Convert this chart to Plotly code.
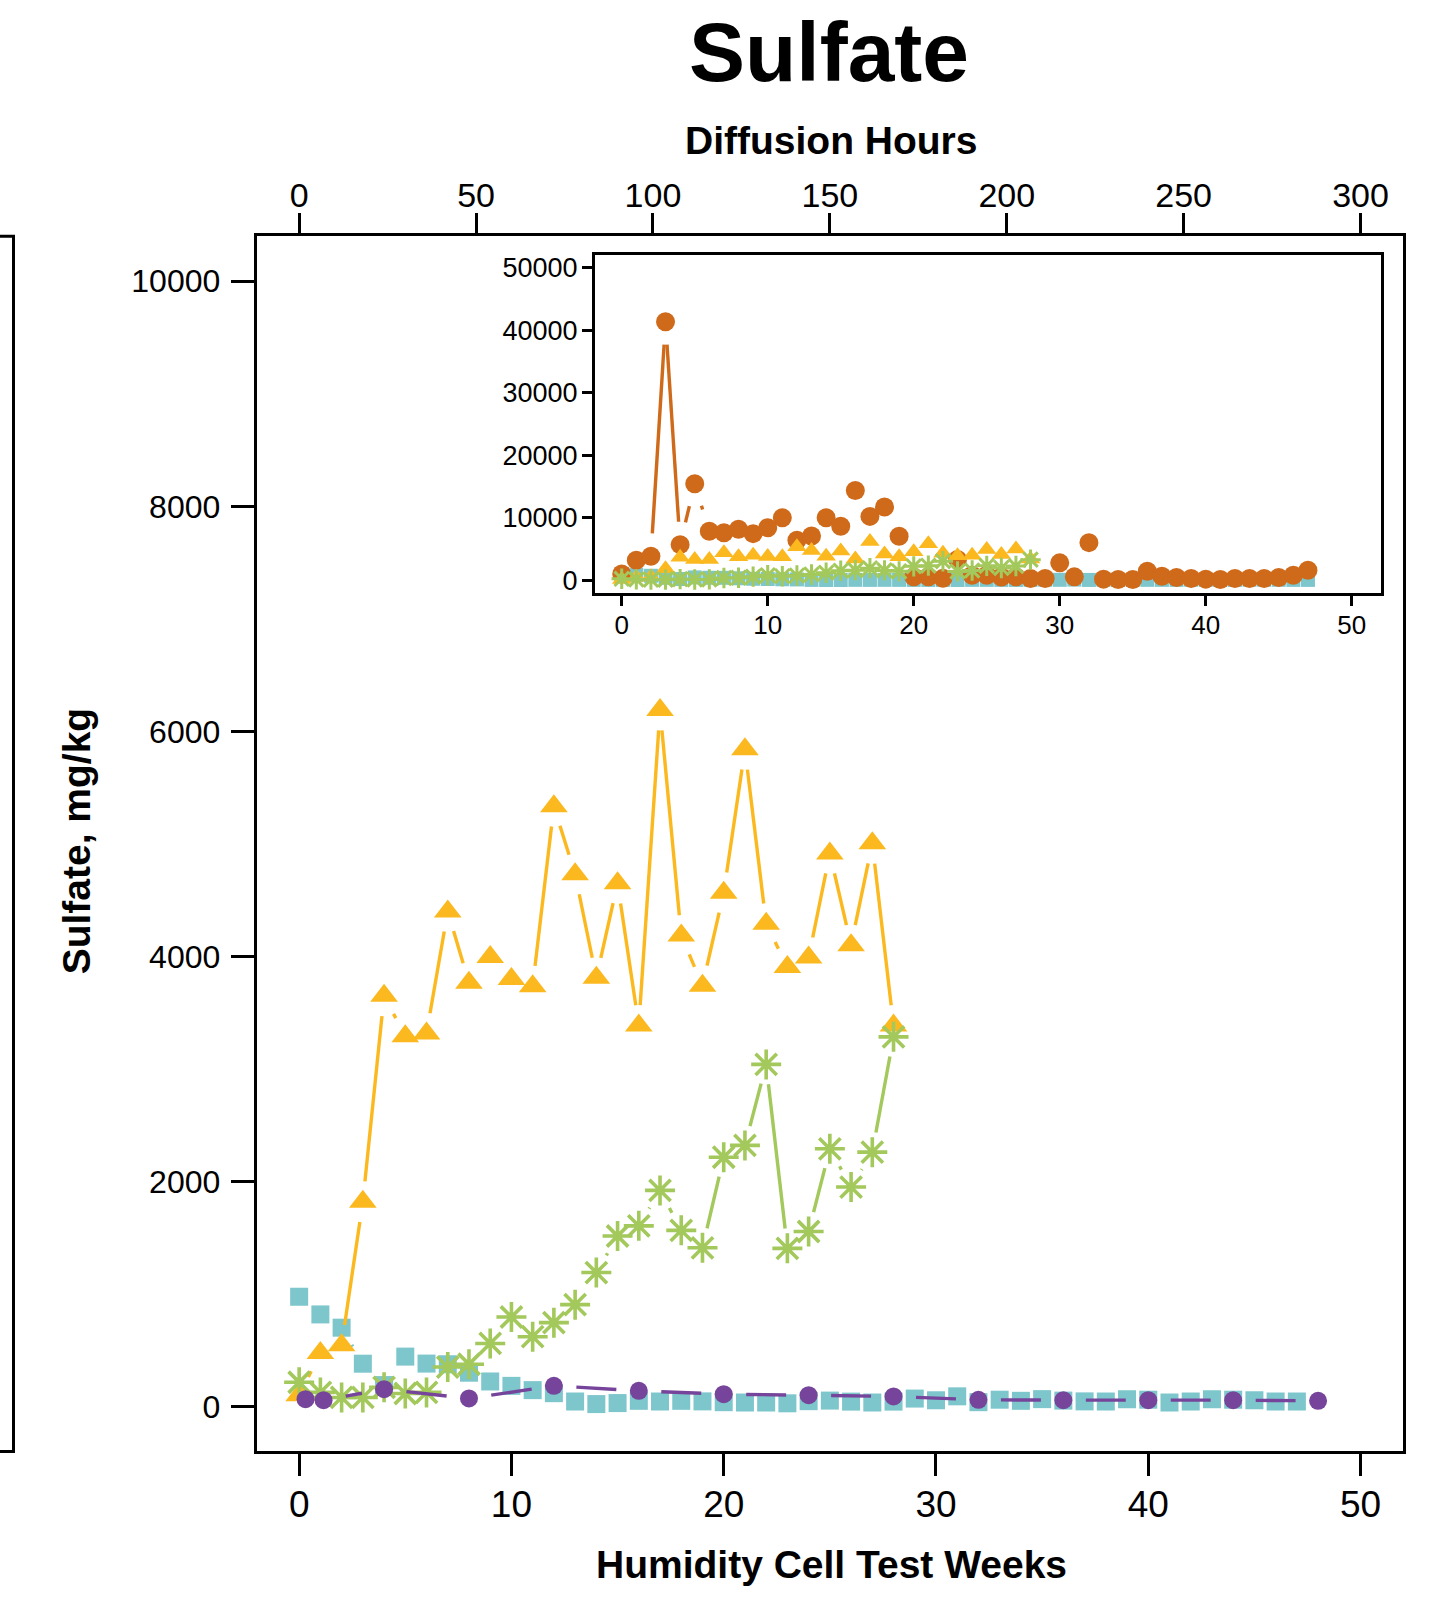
import math
import plotly.graph_objects as go

W, H = 1449, 1601
FONT = "Liberation Sans, Arial, sans-serif"

# ---------------- data ----------------
weeks_cyan = list(range(48))
cyan = [975, 818, 700, 380, 190, 443, 381, 375, 300, 222, 183, 145, 118, 44, 21, 30,
        50, 44, 50, 45, 38, 35, 35, 28, 47, 52, 43, 35, 43, 70, 55, 90, 38, 60, 50, 65,
        52, 45, 44, 64, 60, 35, 44, 64, 60, 55, 44, 44]

weeks_yellow = list(range(29))
yellow = [100, 475, 545, 1820, 3650, 3290, 3315, 4400, 3765, 3995, 3800, 3735, 5335, 4730,
          3810, 4650, 3385, 6190, 4185, 3740, 4565, 5840, 4290, 3905, 3990, 4915, 4100,
          5005, 3385]

weeks_green = list(range(29))
green = [215, 125, 80, 80, 170, 115, 125, 350, 375, 560, 795, 620, 745, 905, 1190, 1515,
         1605, 1920, 1565, 1410, 2215, 2320, 3040, 1405, 1555, 2290, 1950, 2260, 3285]

weeks_purple = [0.3, 1.15, 4, 8, 12, 16, 20, 24, 28, 32, 36, 40, 44, 48]
purple = [65, 56, 153, 71, 183, 139, 109, 100, 89, 59, 56, 56, 56, 50]

weeks_orange = list(range(48))
orange = [1000, 3190, 3830, 41380, 5690, 15430, 7820, 7600, 8140, 7450, 8400, 10000,
          6380, 7070, 10000, 8620, 14360, 10210, 11700, 7020, 530, 530, 300, 3300, 800,
          800, 500, 530, 270, 270, 2770, 530, 6010, 160, 100, 100, 1440, 640, 430, 270,
          160, 100, 270, 270, 270, 430, 800, 1600]

main_xticks = [0, 10, 20, 30, 40, 50]
main_yticks = [0, 2000, 4000, 6000, 8000, 10000]
hour_ticks = [0, 50, 100, 150, 200, 250, 300]
inset_yticks = [0, 10000, 20000, 30000, 40000, 50000]

# colours
C_CYAN = "#7CC6CC"
C_YEL = "#FBB91F"
C_GRN = "#A3C85B"
C_PUR = "#76449A"
C_ORA = "#CF6A1A"

# ---------------- geometry (pixels) ----------------
MX0, MX1, MY0, MY1 = 256.7, 1403.0, 235.0, 1454.0      # main plot box
IX0, IX1, IY0, IY1 = 595.0, 1380.5, 254.2, 592.5      # inset box
MXR, MYR = [-2, 52], [-400, 10400]
IXR, IYR = [-1.83, 51.97], [-2000, 52000]


def dom_x(a, b):
    return [a / W, b / W]


def dom_y(top, bottom):
    return [1 - bottom / H, 1 - top / H]


m_sx = (MX1 - MX0) / (MXR[1] - MXR[0])
m_sy = (MY1 - MY0) / (MYR[1] - MYR[0])
i_sx = (IX1 - IX0) / (IXR[1] - IXR[0])
i_sy = (IY1 - IY0) / (IYR[1] - IYR[0])


def gapped(xs, ys, sx, sy, gap):
    """Emulate R's type='b': segments shortened by `gap` px at each end."""
    gx, gy = [], []
    for x0, y0, x1, y1 in zip(xs[:-1], ys[:-1], xs[1:], ys[1:]):
        L = math.hypot((x1 - x0) * sx, (y1 - y0) * sy)
        if L > 2 * gap:
            f = gap / L
            gx += [x0 + (x1 - x0) * f, x1 - (x1 - x0) * f, None]
            gy += [y0 + (y1 - y0) * f, y1 - (y1 - y0) * f, None]
    return gx, gy


fig = go.Figure()


def add_series(xs, ys, color, symbol, size, gap, sx, sy, xa, ya, lw=3.4, mlw=0):
    lx, ly = gapped(xs, ys, sx, sy, gap)
    fig.add_trace(go.Scatter(x=lx, y=ly, mode="lines", xaxis=xa, yaxis=ya,
                             line=dict(color=color, width=lw), hoverinfo="skip",
                             showlegend=False, cliponaxis=False))
    fig.add_trace(go.Scatter(x=xs, y=ys, mode="markers", xaxis=xa, yaxis=ya,
                             marker=dict(color=color, symbol=symbol, size=size,
                                         line=dict(color=color, width=mlw)),
                             showlegend=False, cliponaxis=False))


# main plot
add_series(weeks_cyan, cyan, C_CYAN, "square", 18, 20, m_sx, m_sy, "x", "y")
add_series(weeks_yellow, yellow, C_YEL, "triangle-up", 24, 20.5, m_sx, m_sy, "x", "y")
add_series(weeks_green, green, C_GRN, "asterisk-open", 25, 20, m_sx, m_sy, "x", "y", mlw=3.6)
add_series(weeks_purple, purple, C_PUR, "circle", 18, 22.5, m_sx, m_sy, "x", "y")

# inset
add_series(weeks_cyan, cyan, C_CYAN, "square", 14, 14, i_sx, i_sy, "x2", "y2")
add_series(weeks_orange, orange, C_ORA, "circle", 19, 23, i_sx, i_sy, "x2", "y2")
add_series(weeks_yellow, yellow, C_YEL, "triangle-up", 17, 14, i_sx, i_sy, "x2", "y2")
add_series(weeks_green, green, C_GRN, "asterisk-open", 17, 14, i_sx, i_sy, "x2", "y2", mlw=3.0)

# invisible trace to activate the top (hours) axis
fig.add_trace(go.Scatter(x=[hour_ticks[0]], y=[0], xaxis="x3", yaxis="y", mode="markers",
                         marker=dict(opacity=0), showlegend=False, hoverinfo="skip"))

base_ax = dict(ticks="outside", tickwidth=3, tickcolor="black", tickformat="d",
               showgrid=False, zeroline=False, showline=True, linewidth=3,
               linecolor="black", mirror=True)

fig.update_layout(
    width=W, height=H, autosize=False,
    margin=dict(l=0, r=0, t=0, b=0),
    paper_bgcolor="white", plot_bgcolor="white",
    showlegend=False,
    xaxis=dict(domain=dom_x(MX0, MX1), range=MXR, tickvals=main_xticks, anchor="y",
               ticklen=22, ticklabelstandoff=-4,
               tickfont=dict(family=FONT, size=37, color="black"), **base_ax),
    yaxis=dict(domain=dom_y(MY0, MY1), range=MYR, tickvals=main_yticks, anchor="x",
               ticklen=23, ticklabelstandoff=4,
               tickfont=dict(family=FONT, size=32, color="black"), **base_ax),
    xaxis3=dict(overlaying="x", side="top", anchor="y", range=[r * 6 for r in MXR],
                tickvals=hour_ticks, ticks="outside", ticklen=22, tickwidth=3,
                tickcolor="black", showgrid=False, zeroline=False, showline=False,
                tickformat="d", ticklabelstandoff=-7,
                tickfont=dict(family=FONT, size=34, color="black")),
    xaxis2=dict(domain=dom_x(IX0, IX1), range=IXR, tickvals=main_xticks, anchor="y2",
                ticklen=10, ticklabelstandoff=-3,
                tickfont=dict(family=FONT, size=26, color="black"), **base_ax),
    yaxis2=dict(domain=dom_y(IY0, IY1), range=IYR, tickvals=inset_yticks, anchor="x2",
                ticklen=10, ticklabelstandoff=-1,
                tickfont=dict(family=FONT, size=27, color="black"), **base_ax),
)

# partial box at the far left
fig.add_shape(type="rect", xref="paper", yref="paper", x0=-0.05, x1=13.5 / W,
              y0=1 - MY1 / H, y1=1 - MY0 / H, line=dict(color="black", width=3))

bold = dict(family=FONT, color="black", weight="bold")
fig.add_annotation(text="Sulfate", x=829 / W, y=1 - 50 / H, xref="paper", yref="paper",
                   showarrow=False, xanchor="center", yanchor="middle",
                   font=dict(size=84, **bold))
fig.add_annotation(text="Diffusion Hours", x=831 / W, y=1 - 139 / H, xref="paper",
                   yref="paper", showarrow=False, xanchor="center", yanchor="middle",
                   font=dict(size=39, **bold))
fig.add_annotation(text="Humidity Cell Test Weeks", x=832 / W, y=1 - 1567 / H,
                   xref="paper", yref="paper", showarrow=False, xanchor="center",
                   yanchor="middle", font=dict(size=39, **bold))
fig.add_annotation(text="Sulfate, mg/kg", x=76 / W, y=1 - 842 / H, xref="paper",
                   yref="paper", showarrow=False, xanchor="center", yanchor="middle",
                   textangle=-90, font=dict(size=39, **bold))

fig.write_html("out.html", config={"displayModeBar": False},
               post_script="document.body.style.margin='0px';")
